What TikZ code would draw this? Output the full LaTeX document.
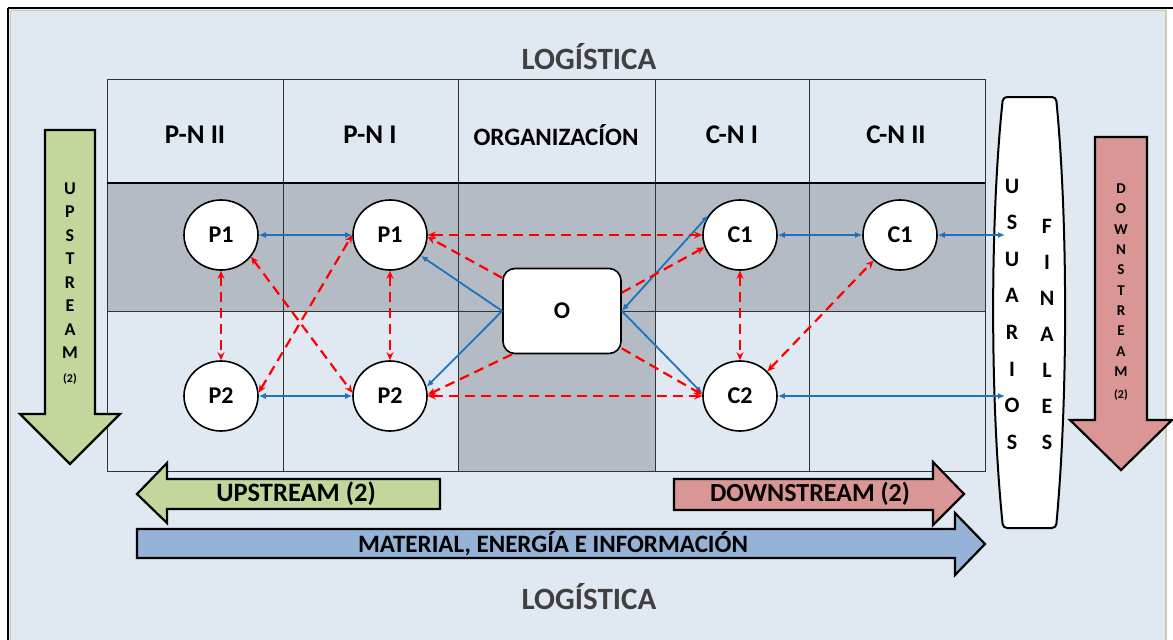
\documentclass[tikz,border=0pt]{standalone}
\usepackage{fontspec}
\setmainfont{Carlito}
\usetikzlibrary{arrows.meta,shapes.geometric}
\definecolor{bgblue}{HTML}{E0E8F2}
\definecolor{rowgray}{HTML}{B4BBC5}
\definecolor{upgreen}{HTML}{C3D69B}
\definecolor{dnpink}{HTML}{D99694}
\definecolor{matblue}{HTML}{95B3D7}
\definecolor{lnblue}{HTML}{1E73BE}
\definecolor{logogray}{HTML}{404040}
\definecolor{framebeige}{HTML}{CFCAB0}
\tikzset{
  nd/.style={ellipse,draw,line width=1.6pt,fill=white,minimum width=74pt,minimum height=70pt,inner sep=0pt,font=\fontsize{24}{26}\selectfont\bfseries},
  org/.style={rectangle,rounded corners=12pt,draw,line width=1.6pt,fill=white,minimum width=118pt,minimum height=85pt,font=\fontsize{24}{26}\selectfont\bfseries},
  bl/.style={line width=1.8pt,draw=lnblue,{Latex[length=7pt,width=6pt]}-{Latex[length=7pt,width=6pt]}},
  blone/.style={line width=1.8pt,draw=lnblue,-{Latex[length=7pt,width=6pt]}},
  rd/.style={line width=2.2pt,red,dash pattern=on 10pt off 6pt,{Stealth[length=8pt,width=7pt]}-{Stealth[length=8pt,width=7pt]}},
  rdone/.style={line width=2.2pt,red,dash pattern=on 10pt off 6pt,-{Stealth[length=8pt,width=7pt]}},
  bigarr/.style={draw,line width=2.2pt,line join=miter},
  hd/.style={font=\fontsize{27}{30}\selectfont\bfseries},
  logo/.style={text=logogray,font=\fontsize{31}{34}\selectfont\bfseries},
  vl/.style={inner sep=0pt,font=\fontsize{18}{20}\selectfont\bfseries},
  vlsm/.style={inner sep=0pt,font=\fontsize{15}{16}\selectfont\bfseries},
  vlbig/.style={inner sep=0pt,font=\fontsize{22}{24}\selectfont\bfseries},
  cnt/.style={inner sep=0pt,font=\fontsize{12}{13}\selectfont\bfseries}
}

\begin{document}
\begin{tikzpicture}[x=1pt,y=-1pt]
\useasboundingbox (0,0) rectangle (1173,640);
\fill[white] (0,0) rectangle (1173,640);
\fill[bgblue] (9,9) rectangle (1166,645);
\draw[framebeige,line width=1.5pt] (10.5,10.5) -- (1166,10.5) -- (1166,645);
\draw[framebeige,line width=1.2pt] (10.5,10.5) -- (10.5,645);
\draw[line width=1.5pt] (8,8) -- (1173,8);
\draw[line width=1.5pt] (8,8) -- (8,645);

\fill[rowgray] (107,183) rectangle (985,311);
\fill[rowgray] (458,311) rectangle (655,471);
\draw[black!80,line width=0.8pt] (107,79) rectangle (985,471);
\foreach \xx in {283,458,655,809}
  \draw[black!80,line width=0.8pt] (\xx,79) -- (\xx,471);
\draw[black!80,line width=0.8pt] (107,311) -- (985,311);
\draw[line width=2.6pt] (107,183) -- (985,183);

\node[logo] (logtop) at (589,57) {LOGÍSTICA};
\node[logo] (logbot) at (589,597) {LOGÍSTICA};
\node[hd] (h1) at (195,135) {P-N II};
\node[hd] (h2) at (370,135) {P-N I};
\node[font=\fontsize{25}{27}\selectfont\bfseries] (h3) at (556,135) {ORGANIZACÍON};
\node[hd] (h4) at (732,135) {C-N I};
\node[hd] (h5) at (896,135) {C-N II};

\draw[bigarr,fill=upgreen] (45,130) -- (95,130) -- (95,414) -- (120,414) -- (70,464) -- (20,414) -- (45,414) -- cycle;
\foreach \ch [count=\i] in {U,P,S,T,R,E,A,M}
  \node[vl] (upv\i) at (70,{165+23.5*\i}) {\ch};
\node[cnt] (upvn) at (70,379) {(2)};

\draw[bigarr,fill=dnpink] (1095,137) -- (1147,137) -- (1147,420) -- (1172,420) -- (1121,470) -- (1070,420) -- (1095,420) -- cycle;
\foreach \ch [count=\i] in {D,O,W,N,S,T,R,E,A,M}
  \node[vlsm] (dnv\i) at (1121,{168.5+20.3*\i}) {\ch};
\node[cnt] (dnvn) at (1121,395) {(2)};

\draw[bigarr,fill=upgreen] (440,479) -- (440,509) -- (167,509) -- (167,523) -- (137,494) -- (167,463) -- (167,479) -- cycle;
\node[font=\fontsize{26.5}{28}\selectfont\bfseries] (uph) at (296,494) {UPSTREAM (2)};
\draw[bigarr,fill=dnpink] (674,479) -- (933,479) -- (933,462) -- (964,494) -- (933,525) -- (933,510) -- (674,510) -- cycle;
\node[font=\fontsize{26}{28}\selectfont\bfseries] (dnh) at (810,494) {DOWNSTREAM (2)};
\draw[bigarr,fill=matblue] (137,529) -- (955,529) -- (955,513) -- (985,544) -- (955,575) -- (955,558) -- (137,558) -- cycle;
\node[font=\fontsize{25}{27}\selectfont\bfseries] (mat) at (553,544) {MATERIAL, ENERGÍA E INFORMACIÓN};

\draw[line width=2pt,fill=white,rounded corners=4pt] (1003,528) .. controls (990,400) and (990,220) .. (1003,97) -- (1056,97) .. controls (1068,220) and (1068,400) .. (1056,528) -- cycle;
\foreach \ch [count=\i] in {U,S,U,A,R,I,O,S}
  \node[vlbig] (us\i) at (1012,{149.4+36.6*\i}) {\ch};
\foreach \ch [count=\i] in {F,I,N,A,L,E,S}
  \node[vlbig] (fi\i) at (1047,{190+36*\i}) {\ch};

\node[nd] (p1a) at (221,235) {P1};
\node[nd] (p2a) at (221,396) {P2};
\node[nd] (p1b) at (390,235) {P1};
\node[nd] (p2b) at (390,396) {P2};
\node[org] (o) at (562,311) {O};
\node[nd] (c1a) at (740,235) {C1};
\node[nd] (c2a) at (740,396) {C2};
\node[nd] (c1b) at (900,235) {C1};
\coordinate (uf1) at (1005,235);
\coordinate (uf2) at (1005,396);

\draw[bl] (p1a) -- (p1b);
\draw[bl] (p2a) -- (p2b);
\draw[bl] (c1a) -- (c1b);
\draw[bl] (c1b) -- (uf1);
\draw[bl] (c2a) -- (uf2);
\draw[blone] (o.west) -- (p1b.-34);
\draw[blone] (o.west) -- (p2b.14);
\draw[bl] (o.east) -- (c1a.148);
\draw[blone] (o.east) -- (c2a.176);

\draw[rd] (p1a) -- (p2a);
\draw[rd] (p1b) -- (p2b);
\draw[rd] (c1a) -- (c2a);
\draw[rd] (p1a.-36) -- (p2b.175);
\draw[rd] (p2a.5) -- (p1b.180);
\draw[rd] (p1b) -- (c1a);
\draw[rd] (p2b) -- (c2a);
\draw[rd] (c2a.42) -- (c1b.224);
\draw[rdone] (o.151) -- (p1b.-3);
\draw[rdone] (o.221) -- (p2b.2);
\draw[rdone] (o.17) -- (c1a.199);
\draw[rdone] (o.-32) -- (c2a.178);
\end{tikzpicture}
\end{document}
